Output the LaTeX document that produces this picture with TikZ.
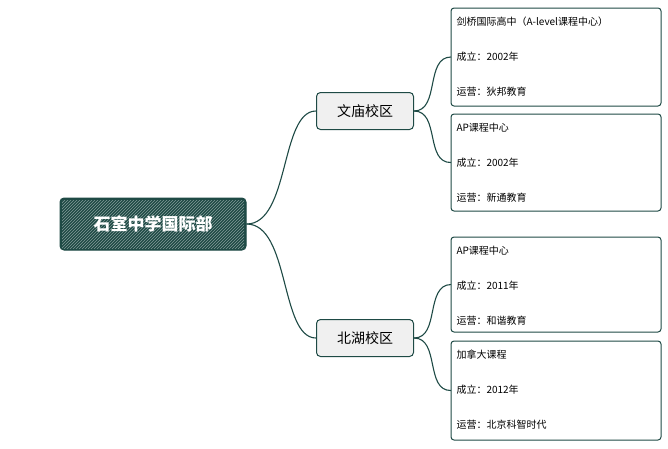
\documentclass[tikz,border=0pt]{standalone}
\usepackage{fontspec}
\setmainfont{Noto Sans CJK SC}
\usetikzlibrary{patterns}
\definecolor{deep}{HTML}{1E4A45}
\tikzset{
  root/.style={draw=deep, fill=deep, rounded corners=4pt, minimum width=186pt, minimum height=52pt, line width=1pt},
  campus/.style={draw=deep, fill=gray!12, rounded corners=4pt, font=\fontsize{14}{16}\selectfont, minimum width=97pt, minimum height=37pt, line width=1pt},
  leafbox/.style={draw=deep, rounded corners=3pt, line width=1pt},
  item/.style={anchor=west, font=\fontsize{10}{12}\selectfont},
  link/.style={draw=deep, line width=1.1pt}
}
\begin{document}
\begin{tikzpicture}[x=1pt,y=-1pt]
\useasboundingbox (0,0) rectangle (668,448);
% 根节点
\node[root] (zx) at (153,224) {};
\fill[pattern=north east lines, pattern color=deep!55!white] (62,200) rectangle (244,248);
\node[text=white, font=\fontsize{17}{20}\selectfont\bfseries] at (153,224) {石室中学国际部};
% 校区
\node[campus] (wm) at (365,111) {文庙校区};
\node[campus] (bh) at (365,338) {北湖校区};
\draw[link] (zx.east) .. controls (290,224) and (280,111) .. (wm.west);
\draw[link] (zx.east) .. controls (290,224) and (280,338) .. (bh.west);
% 课程中心
\foreach \nm/\top/\bot/\a/\b/\c in {
  ja/8/106/剑桥国际高中（A-level课程中心）/成立：2002年/运营：狄邦教育,
  jb/114/211/AP课程中心/成立：2002年/运营：新通教育,
  jc/237/332/AP课程中心/成立：2011年/运营：和谐教育,
  jd/341/440/加拿大课程/成立：2012年/运营：北京科智时代}{
  \draw[leafbox] (451,\top) rectangle (661,\bot);
  \coordinate (\nm) at (451,{(\top+\bot)/2});
  \node[item] at (453,{\top+14}) {\a};
  \node[item] at (453,{\top+49}) {\b};
  \node[item] at (453,{\top+84}) {\c};
}
\draw[link] (wm.east) .. controls (440,111) and (425,57) .. (ja);
\draw[link] (wm.east) .. controls (440,111) and (425,163) .. (jb);
\draw[link] (bh.east) .. controls (440,338) and (425,285) .. (jc);
\draw[link] (bh.east) .. controls (440,338) and (425,391) .. (jd);
\end{tikzpicture}
\end{document}
